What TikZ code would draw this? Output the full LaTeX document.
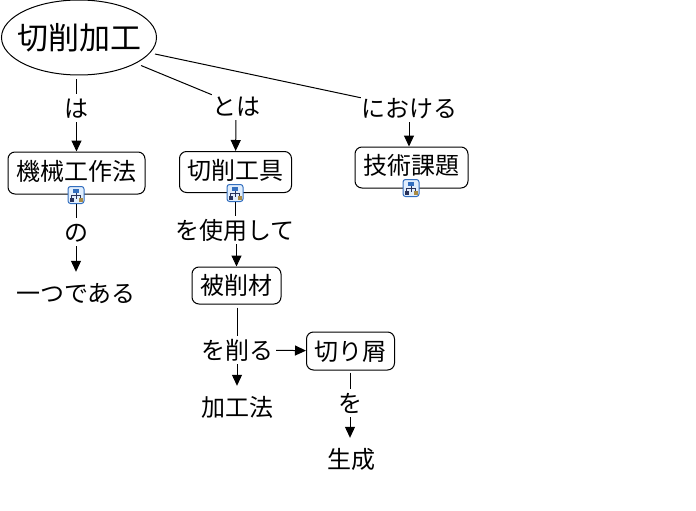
\documentclass[tikz,border=0pt]{standalone}
\usepackage{fontspec}
\setmainfont{Noto Sans CJK JP}
\usetikzlibrary{shapes.geometric, arrows.meta, positioning}
\definecolor{iconblue}{RGB}{50, 110, 190}
\definecolor{iconpale}{RGB}{225, 238, 252}
\definecolor{icondark}{RGB}{40, 50, 90}
\definecolor{icontan}{RGB}{170, 140, 70}
\tikzset{
  orgmark/.pic={
    \draw[icondark, line width=0.6pt] (0,-2) -- (0,4) (-4.5,3) -- (-4.5,0.5) -- (4.5,0.5) -- (4.5,3);
    \fill[iconblue] (-3,-6.5) rectangle (3,-2);
    \fill[icondark] (-6.5,2.5) rectangle (-2.5,6.5);
    \fill[icontan] (2.5,2.5) rectangle (6.5,6.5);
  }
}
\begin{document}
\begin{tikzpicture}[
  x=1pt, y=-1pt,
  root/.style={draw, ellipse, inner xsep=-7.5pt, inner ysep=0pt, minimum width=155pt, minimum height=75pt, line width=1pt, font=\fontsize{31}{31}\selectfont},
  nd/.style={draw, rounded corners=7pt, inner sep=0pt, line width=1pt, text height=21pt, text depth=3pt, font=\fontsize{24}{24}\selectfont},
  ndic/.style={nd, text height=18pt, text depth=4pt},
  lbl/.style={inner sep=0pt, minimum height=28pt, text height=22pt, text depth=3pt, font=\fontsize{24}{24}\selectfont},
  res/.style={lbl, minimum height=42pt},
  arr/.style={-{Triangle[length=11pt, width=10pt]}, line width=1pt},
  lin/.style={line width=1pt},
  icn/.style={draw=iconblue, fill=iconpale, rounded corners=2.5pt, line width=1pt, inner sep=0pt, minimum width=16pt, minimum height=17pt},
]
  \useasboundingbox (0,0) rectangle (696,511);

  \node[root] (cut) at (79,37.5) {切削加工};

  \node[lbl] (wa) at (76.5,108) {は};
  \node[lbl] (towa) at (236,106) {とは};
  \node[lbl] (niokeru) at (409,108) {における};

  \node[ndic, minimum width=137pt, minimum height=42pt] (kikai) at (76.5,173) {機械工作法};
  \node[ndic, minimum width=112pt, minimum height=41pt] (tool) at (235.5,172) {切削工具};
  \node[ndic, minimum width=113pt, minimum height=41pt] (gijutsu) at (411.5,167.5) {技術課題};

  \node[icn] (ickikai) at (76,195) {};
  \node[icn] (ictool) at (235,193) {};
  \node[icn] (icgijutsu) at (411,188) {};
  \pic at (ickikai) {orgmark};
  \pic at (ictool) {orgmark};
  \pic at (icgijutsu) {orgmark};

  \node[lbl] (no) at (76,232) {の};
  \node[res] (hitotsu) at (76,293) {一つである};
  \node[lbl] (shiyou) at (235,230) {を使用して};

  \node[nd, minimum width=89pt, minimum height=37pt] (work) at (236.5,285.5) {被削材};
  \node[lbl, inner xsep=3pt] (kezuru) at (237,350) {を削る};
  \node[res] (kakou) at (237,407) {加工法};
  \node[nd, minimum width=88pt, minimum height=38pt] (chip) at (350.5,351) {切り屑};
  \node[lbl] (wo) at (350,403) {を};
  \node[res] (seisei) at (351.5,459) {生成};

  \draw[lin] (cut.south -| wa) ++(0,4) -- (wa);
  \draw[lin] (cut) ++(62,28) -- (towa.155);
  \draw[lin] (cut) ++(76,16.5) -- (niokeru.168);
  \draw[arr] (wa) -- (kikai);
  \draw[arr] (towa) -- (tool);
  \draw[arr] (niokeru) -- (gijutsu.north -| niokeru);
  \draw[lin] (ickikai) -- (no);
  \draw[arr] (no) -- (hitotsu);
  \draw[lin] (ictool) -- (shiyou.north -| ictool);
  \draw[arr] (shiyou.south -| work) -- (work);
  \draw[lin] (work.south -| kezuru) ++(0,3) -- (kezuru);
  \draw[arr] (kezuru) -- (kakou);
  \draw[arr] (kezuru) -- (chip);
  \draw[lin] (chip.south -| wo) ++(0,2) -- (wo);
  \draw[arr] (wo) -- (seisei.north -| wo);
\end{tikzpicture}
\end{document}
